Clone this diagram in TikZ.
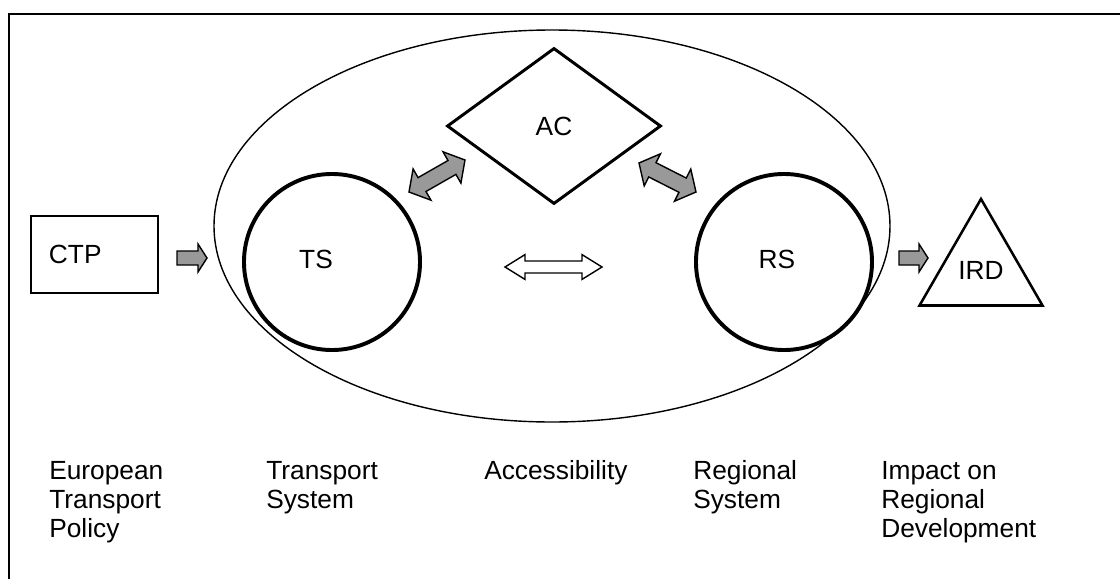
\documentclass[tikz,border=0pt]{standalone}
\usepackage{fontspec}
\setmainfont{Liberation Sans}
\usetikzlibrary{shapes.geometric, calc}

% block arrow: style, tail, tip, head length, head half width, shaft half width
\newcommand{\onewayarrow}[6]{%
  \coordinate (hb) at ($(#3)!#4!(#2)$);
  \draw[#1] ($(#2)!#6!-90:(#3)$) -- ($(#2)!#6!90:(#3)$) -- ($(hb)!#6!-90:(#2)$)
    -- ($(hb)!#5!-90:(#2)$) -- (#3) -- ($(hb)!#5!90:(#2)$) -- ($(hb)!#6!90:(#2)$) -- cycle;
}
% double block arrow: style, end, end, head length, head half width, shaft half width
\newcommand{\twowayarrow}[6]{%
  \coordinate (ha) at ($(#2)!#4!(#3)$);
  \coordinate (hb) at ($(#3)!#4!(#2)$);
  \draw[#1] (#2) -- ($(ha)!#5!90:(#3)$) -- ($(ha)!#6!90:(#3)$) -- ($(hb)!#6!-90:(#2)$)
    -- ($(hb)!#5!-90:(#2)$) -- (#3) -- ($(hb)!#5!90:(#2)$) -- ($(hb)!#6!90:(#2)$)
    -- ($(ha)!#6!-90:(#3)$) -- ($(ha)!#5!-90:(#3)$) -- cycle;
}

\begin{document}
\begin{tikzpicture}[
    x=0.025cm, y=-0.025cm,
    font=\fontsize{18.7}{20.6}\selectfont,
    system/.style={
        circle,
        draw,
        line width=2.8pt,
        minimum size=4.4cm,
        inner sep=0pt
    },
    policybox/.style={
        rectangle,
        draw,
        line width=1.4pt,
        minimum width=3.175cm,
        minimum height=1.925cm,
        inner xsep=0.45cm,
        text width=2.275cm,
        align=left
    },
    accessbox/.style={
        diamond,
        draw,
        line width=2.1pt,
        minimum width=5.35cm,
        minimum height=3.9cm,
        inner sep=0pt
    },
    impactbox/.style={
        regular polygon,
        regular polygon sides=3,
        draw,
        line width=1.8pt,
        minimum size=3.55cm,
        inner sep=0pt
    },
    tag/.style={anchor=base},
    caption/.style={anchor=north west, align=left, inner sep=0pt},
    grayarrow/.style={draw, line width=1pt, fill=black!40, line join=miter},
    hollowarrow/.style={draw, line width=1pt, fill=white, line join=miter}
]
\useasboundingbox (0,0) rectangle (1120,579);

% frame
\draw[line width=1.4pt] (9,579) -- (9,14) -- (1120,14);

% systems
\draw[line width=1pt] (552,226) ellipse [x radius=338, y radius=196];
\node[policybox] (ctp) at (94.5,254.5) {CTP};
\node[system] (ts) at (332,262) {};
\node[system] (rs) at (784,262) {};
\node[tag] (tslabel) at (316,268) {TS};
\node[tag] (rslabel) at (777,268) {RS};
\node[accessbox] (ac) at (554,126) {AC};
\node[impactbox] (ird) at (981,270) {\raisebox{-0.1cm}{IRD}};

% arrows
\coordinate (ctpout) at (177,258);
\coordinate (tsin) at (207,258);
\coordinate (rsout) at (899,258);
\coordinate (irdin) at (928,258);
\coordinate (tsac) at (409,192);
\coordinate (acts) at (465,160);
\coordinate (acrs) at (639,163);
\coordinate (rsac) at (696,192);
\coordinate (tsrs) at (505,267);
\coordinate (rsts) at (602,267);

\onewayarrow{grayarrow}{ctpout}{tsin}{0.225cm}{0.35cm}{0.175cm}
\onewayarrow{grayarrow}{rsout}{irdin}{0.225cm}{0.35cm}{0.175cm}
\twowayarrow{grayarrow}{tsac}{acts}{0.375cm}{0.45cm}{0.2cm}
\twowayarrow{grayarrow}{acrs}{rsac}{0.375cm}{0.45cm}{0.2cm}
\twowayarrow{hollowarrow}{tsrs}{rsts}{0.5cm}{0.31cm}{0.15cm}

% captions
\node[caption] (etp) at (49,458.7) {\strut European\\Transport\\Policy};
\node[caption] (tsys) at (266,458.7) {\strut Transport\\System};
\node[caption] (acc) at (484,458.7) {\strut Accessibility};
\node[caption] (rsys) at (693,458.7) {\strut Regional\\System};
\node[caption] (impact) at (881,458.7) {\strut Impact on\\Regional\\Development};

\end{tikzpicture}
\end{document}
